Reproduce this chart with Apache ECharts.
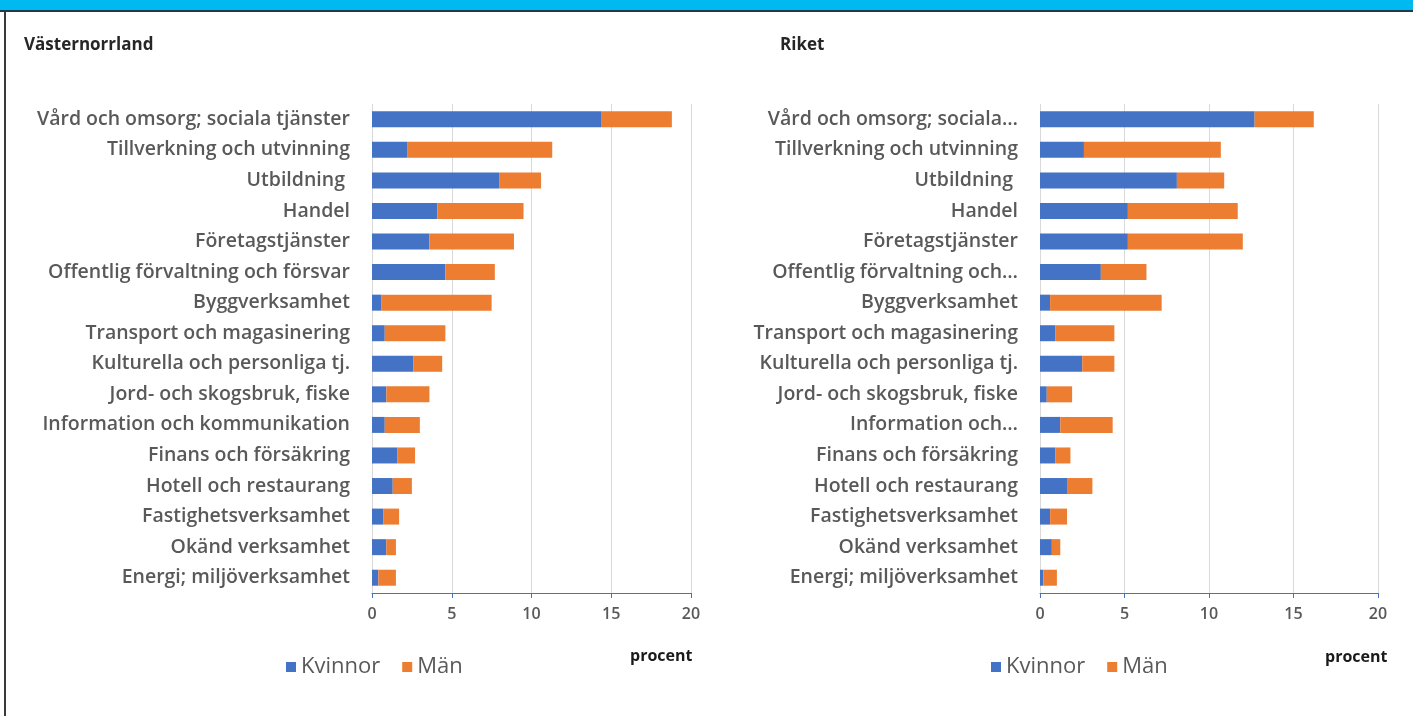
<!DOCTYPE html>
<html>
<head>
<meta charset="utf-8">
<script src="https://cdn.jsdelivr.net/npm/echarts@6/dist/echarts.min.js"></script>
<style>
  html, body { margin: 0; padding: 0; background: #fff; }
  #app { width: 1413px; height: 716px; }
</style>
</head>
<body>
<div id="app"></div>
<script>
// branscher, uppifrån och ned
const categoriesLeft = [
  'Vård och omsorg; sociala tjänster', 'Tillverkning och utvinning', 'Utbildning ', 'Handel',
  'Företagstjänster', 'Offentlig förvaltning och försvar', 'Byggverksamhet', 'Transport och magasinering',
  'Kulturella och personliga tj.', 'Jord- och skogsbruk, fiske', 'Information och kommunikation',
  'Finans och försäkring', 'Hotell och restaurang', 'Fastighetsverksamhet', 'Okänd verksamhet',
  'Energi; miljöverksamhet'
];
const categoriesRight = [
  'Vård och omsorg; sociala…', 'Tillverkning och utvinning', 'Utbildning ', 'Handel',
  'Företagstjänster', 'Offentlig förvaltning och…', 'Byggverksamhet', 'Transport och magasinering',
  'Kulturella och personliga tj.', 'Jord- och skogsbruk, fiske', 'Information och…',
  'Finans och försäkring', 'Hotell och restaurang', 'Fastighetsverksamhet', 'Okänd verksamhet',
  'Energi; miljöverksamhet'
];

// Västernorrland, procent
const kvinnorVN = [14.4, 2.2, 8.0, 4.1, 3.6, 4.6, 0.6, 0.8, 2.6, 0.9, 0.8, 1.6, 1.3, 0.7, 0.9, 0.4];
const manVN     = [4.4, 9.1, 2.6, 5.4, 5.3, 3.1, 6.9, 3.8, 1.8, 2.7, 2.2, 1.1, 1.2, 1.0, 0.6, 1.1];

// Riket, procent
const kvinnorRiket = [12.7, 2.6, 8.1, 5.2, 5.2, 3.6, 0.6, 0.9, 2.5, 0.4, 1.2, 0.9, 1.6, 0.6, 0.7, 0.2];
const manRiket     = [3.5, 8.1, 2.8, 6.5, 6.8, 2.7, 6.6, 3.5, 1.9, 1.5, 3.1, 0.9, 1.5, 1.0, 0.5, 0.8];

const xTicks = { min: 0, max: 20, interval: 5 };

const BLUE = '#4472C4';
const ORANGE = '#ED7D31';
const GREY = '#595959';
const FONT = 'Open Sans';

const chart = echarts.init(document.getElementById('app'));

const xAxisBase = (gridIndex) => ({
  type: 'value',
  gridIndex,
  min: xTicks.min,
  max: xTicks.max,
  interval: xTicks.interval,
  axisLine: { show: true, lineStyle: { color: BLUE, width: 1 } },
  axisTick: { show: true, length: 5, lineStyle: { color: BLUE } },
  splitLine: { show: true, lineStyle: { color: '#D9D9D9', width: 1 } },
  axisLabel: { color: GREY, fontFamily: FONT, fontSize: 16, fontWeight: 600, margin: 13 }
});

const yAxisBase = (gridIndex, cats) => ({
  type: 'category',
  gridIndex,
  data: cats,
  inverse: true,
  axisLine: { show: false },
  axisTick: { show: false },
  axisLabel: { color: GREY, fontFamily: FONT, fontSize: 19.5, fontWeight: 600, margin: 22 }
});

const legendBase = (left) => ({
  left,
  top: 651,
  icon: 'rect',
  itemWidth: 10,
  itemHeight: 10,
  itemGap: 22,
  data: ['Kvinnor', 'Män'],
  textStyle: { color: GREY, fontFamily: FONT, fontSize: 22 }
});

const barSeries = (name, data, axisIndex, stack, color) => ({
  name,
  type: 'bar',
  stack,
  xAxisIndex: axisIndex,
  yAxisIndex: axisIndex,
  data,
  barWidth: 16,
  itemStyle: { color },
  silent: true
});

const option = {
  animation: false,
  backgroundColor: '#fff',
  title: [
    { text: 'Västernorrland', left: 19, top: 32, textStyle: { fontFamily: FONT, fontSize: 17, fontWeight: 'bold', color: '#262626' } },
    { text: 'Riket', left: 775, top: 32, textStyle: { fontFamily: FONT, fontSize: 17, fontWeight: 'bold', color: '#262626' } }
  ],
  legend: [legendBase(281), legendBase(986)],
  grid: [
    { left: 372, right: 722, top: 104, bottom: 123 },
    { left: 1040, right: 35, top: 104, bottom: 123 }
  ],
  xAxis: [xAxisBase(0), xAxisBase(1)],
  yAxis: [yAxisBase(0, categoriesLeft), yAxisBase(1, categoriesRight)],
  series: [
    barSeries('Kvinnor', kvinnorVN, 0, 'vn', BLUE),
    barSeries('Män', manVN, 0, 'vn', ORANGE),
    barSeries('Kvinnor', kvinnorRiket, 1, 'riket', BLUE),
    barSeries('Män', manRiket, 1, 'riket', ORANGE)
  ],
  graphic: [
    // blå rubrikrad överst (texten är avskuren)
    { type: 'rect', left: 0, top: 0, shape: { width: 1413, height: 10 }, style: { fill: '#00B9F1' } },
    { type: 'rect', left: 0, top: 10, shape: { width: 1413, height: 2 }, style: { fill: '#1F3A4A' } },
    // ram till vänster
    { type: 'rect', left: 4, top: 11, shape: { width: 2, height: 705 }, style: { fill: '#3A3A3A' } },
    { type: 'text', left: 630, top: 648, style: { text: 'procent', fill: '#1a1a1a', font: 'bold 16px "Open Sans"' } },
    { type: 'text', left: 1325, top: 649, style: { text: 'procent', fill: '#1a1a1a', font: 'bold 16px "Open Sans"' } }
  ]
};

chart.setOption(option);
</script>
</body>
</html>
